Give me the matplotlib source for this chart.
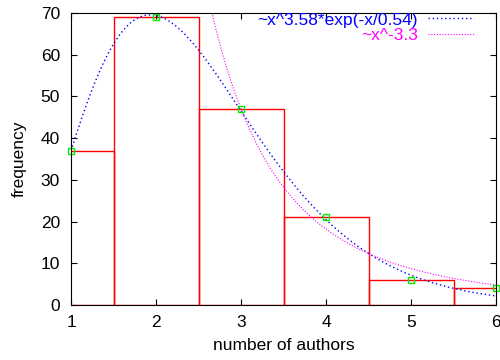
import numpy as np
import matplotlib
matplotlib.use("Agg")
import matplotlib.pyplot as plt

plt.rcParams['font.family'] = ['Liberation Sans', 'DejaVu Sans']

# histogram data
authors = [1, 2, 3, 4, 5, 6]
freq = [37, 69, 47, 21, 6, 4]

# fit parameters
gam_a = 3.58
gam_b = 0.54
gam_c = 235.6
pow_a = -3.3
pow_c = 1764.0

fs = 12.5

fig = plt.figure(figsize=(5, 3.6), dpi=100)
ax = fig.add_axes([0.142, 0.153, 0.85, 0.811])

ax.bar(authors, freq, width=1.0, fill=False, edgecolor='red', linewidth=1.0)

xs = np.linspace(1, 6, 400)
ax.plot(xs, gam_c * xs**gam_a * np.exp(-xs / gam_b), color='blue', linestyle=(0, (1, 2)),
        linewidth=1.0, label='~x^3.58*exp(-x/0.54)')
ax.plot(xs, pow_c * xs**pow_a, color='magenta', linestyle=(0, (1, 1.5)), linewidth=0.8,
        label='~x^-3.3')

ax.plot(authors, freq, linestyle='none', marker='s', markersize=5, markerfacecolor='none',
        markeredgecolor='#00ee00', markeredgewidth=1.0, clip_on=False)

ax.set_xlim(1, 6)
ax.set_ylim(0, 70)
ax.set_xticks(authors)
ax.set_yticks(range(0, 71, 10))
ax.tick_params(direction='in', top=True, right=True, labelsize=fs, length=4)
ax.tick_params(axis='x', pad=7)
ax.tick_params(axis='y', pad=8)
ax.set_xlabel('number of authors', fontsize=fs, labelpad=6)
ax.set_ylabel('frequency', fontsize=fs, labelpad=10)

leg = ax.legend(loc='upper right', bbox_to_anchor=(0.953, 1.008), frameon=False,
                fontsize=fs, markerfirst=False, handlelength=2.65, borderaxespad=0.0,
                borderpad=0.1, labelspacing=0.0, handletextpad=0.6)
for txt, col in zip(leg.get_texts(), ['blue', 'magenta']):
    txt.set_color(col)
# right-align the rows
for col in leg._legend_handle_box.get_children():
    col.align = 'right'

fig.savefig('out.png')
